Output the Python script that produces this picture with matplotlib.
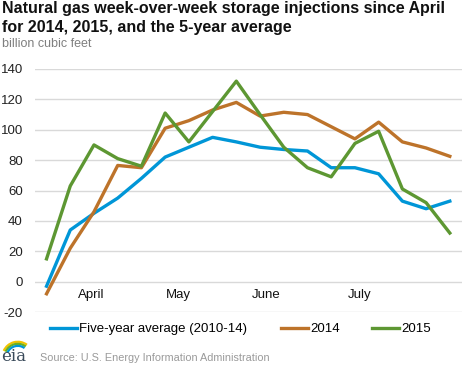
import matplotlib
matplotlib.use("Agg")
import matplotlib.pyplot as plt
from matplotlib.patches import Arc

plt.rcParams["font.family"] = ["Liberation Sans", "DejaVu Sans"]

# weekly injections, first week of April through end of July
five_year = [-3, 34, 45, 55, 68, 82, 88.5, 95, 92, 88.5, 87, 86, 75, 75, 71, 53, 48, 53]
y2014 = [-8, 22, 46, 76.5, 75, 101, 106, 113, 118, 109, 111.5, 110, 102, 94, 105, 92, 88, 82.5]
y2015 = [15, 63, 90, 81, 76, 111, 92, 112, 132, 110, 88.5, 75, 69, 91, 99, 61, 52, 32]

month_labels = ["April", "May", "June", "July"]
month_pos = [1.9, 5.55, 9.25, 13.2]
y_ticks = [-20, 0, 20, 40, 60, 80, 100, 120, 140]

fig = plt.figure(figsize=(4.68, 3.66), dpi=100)
ax = fig.add_axes([0.0741, 0.1475, 0.9124, 0.664])

weeks = range(len(five_year))
l1, = ax.plot(weeks, five_year, color="#0096d7", lw=2.4, label="Five-year average (2010-14)")
l2, = ax.plot(weeks, y2014, color="#bd732a", lw=2.4, label="2014")
l3, = ax.plot(weeks, y2015, color="#5d9732", lw=2.4, label="2015")

ax.set_xlim(-0.5, 17.5)
ax.set_ylim(-20, 140)
ax.set_yticks(y_ticks)
ax.set_yticklabels([str(v) for v in y_ticks], fontsize=9.5, color="#222222")
ax.yaxis.grid(True, color="#d9d9d9", lw=1)
ax.set_axisbelow(True)
ax.tick_params(axis="y", length=0, pad=8.6)
ax.set_xticks([])
for s in ax.spines.values():
    s.set_visible(False)

for pos, lab in zip(month_pos, month_labels):
    ax.text(pos, -9, lab, ha="center", va="center", fontsize=9.5, color="#111111")

fig.text(0.004, 0.9645, "Natural gas week-over-week storage injections since April",
         ha="left", va="baseline", fontsize=11.5, fontweight="bold", color="#111111")
fig.text(0.004, 0.9126, "for 2014, 2015, and the 5-year average",
         ha="left", va="baseline", fontsize=11.5, fontweight="bold", color="#111111")
fig.text(0.004, 0.8716, "billion cubic feet", ha="left", va="baseline", fontsize=9, color="#7f7f7f")

# legend entries placed one by one, spacing in the original is uneven
for line, x0 in [(l1, 50), (l2, 281), (l3, 372)]:
    fig.legend(handles=[line], loc="center left", bbox_to_anchor=(x0 / 468, 0.101), frameon=False,
               fontsize=9.5, handlelength=2.05, handletextpad=0.15, borderpad=0, borderaxespad=0)

fig.text(0.085, 0.022, "Source: U.S. Energy Information Administration", ha="left", va="center",
         fontsize=7.8, color="#9a9a9a")

# small eia logo
fig.text(0.002, 0.004, "eia", ha="left", va="bottom", fontsize=12, family="DejaVu Serif", color="#3a4a5a")
for r, c in [(0.030, "#f2c300"), (0.026, "#6ab023"), (0.022, "#0096d7")]:
    fig.add_artist(Arc((0.038, 0.024), r * 2.2, r * 2.2 * 468 / 366, theta1=60, theta2=150,
                       transform=fig.transFigure, color=c, lw=1.6))

fig.savefig("out.png", dpi=100)
